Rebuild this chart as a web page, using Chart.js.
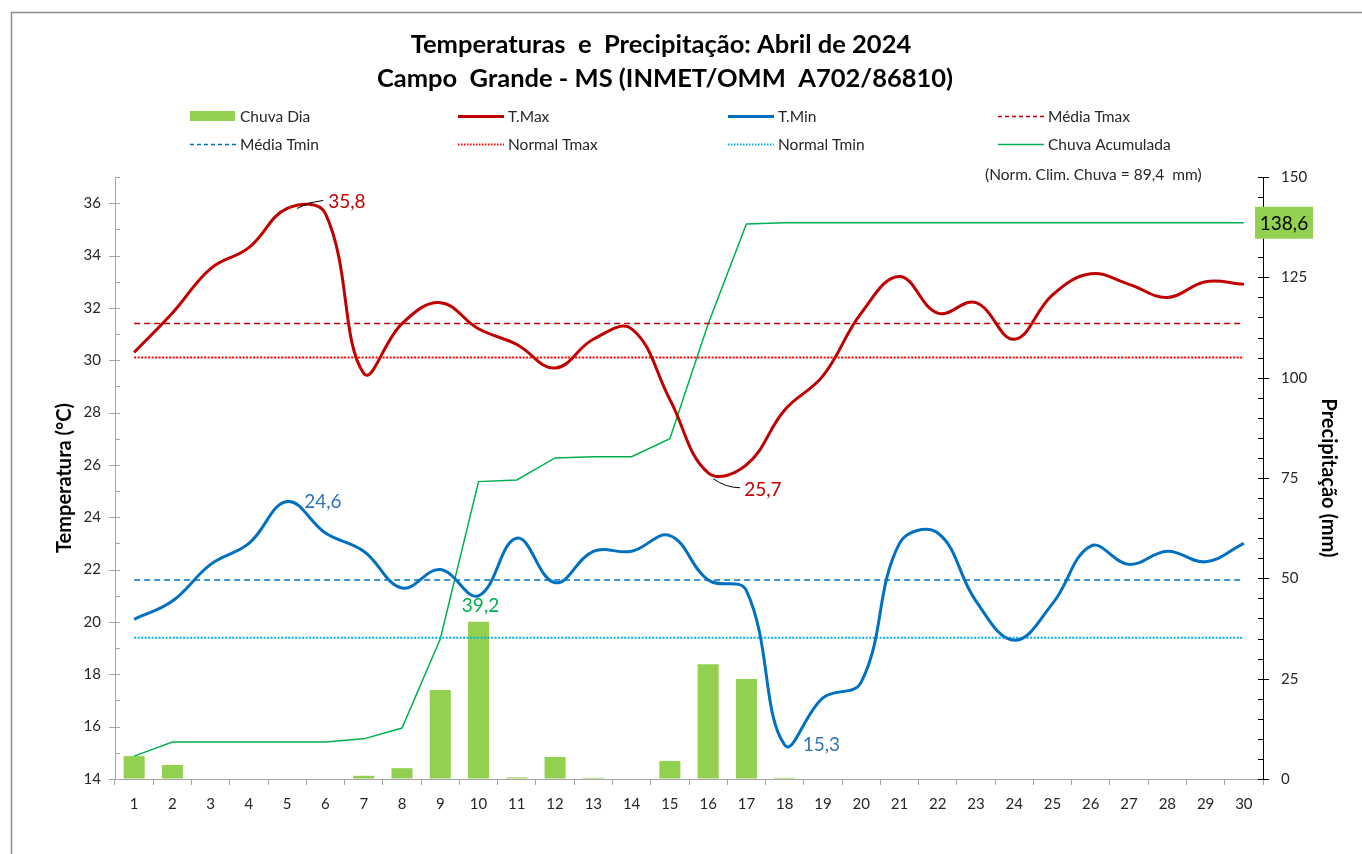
<!DOCTYPE html>
<html>
<head>
<meta charset="utf-8">
<script src="https://cdn.jsdelivr.net/npm/chart.js@4.4.1/dist/chart.umd.min.js"></script>
<style>
  html, body { margin: 0; padding: 0; background: #fff; }
</style>
</head>
<body>
<canvas id="grafico" width="1362" height="854"></canvas>
<script>
// Dados: abril de 2024, Campo Grande - MS
const dias = ['1','2','3','4','5','6','7','8','9','10','11','12','13','14','15',
              '16','17','18','19','20','21','22','23','24','25','26','27','28','29','30'];

const tmax = [30.3, 31.8, 33.5, 34.3, 35.8, 35.6, 29.5, 31.4, 32.2, 31.2,
              30.6, 29.7, 30.8, 31.2, 28.5, 25.7, 26.0, 28.1, 29.4, 31.8,
              33.2, 31.8, 32.2, 30.8, 32.5, 33.3, 32.9, 32.4, 33.0, 32.9];

const tmin = [20.1, 20.8, 22.2, 23.0, 24.6, 23.4, 22.7, 21.3, 22.0, 21.0,
              23.2, 21.5, 22.7, 22.7, 23.3, 21.6, 21.2, 15.3, 17.1, 17.7,
              23.0, 23.4, 20.8, 19.3, 20.7, 22.9, 22.2, 22.7, 22.3, 23.0];

const chuvaDia = [5.7, 3.5, 0, 0, 0, 0, 0.8, 2.7, 22.2, 39.2,
                  0.4, 5.5, 0.3, 0, 4.5, 28.6, 24.9, 0.3, 0, 0,
                  0, 0, 0, 0, 0, 0, 0, 0, 0, 0];

const chuvaAcum = [5.7, 9.2, 9.2, 9.2, 9.2, 9.2, 10.0, 12.7, 34.9, 74.1,
                   74.5, 80.0, 80.3, 80.3, 84.8, 113.4, 138.3, 138.6, 138.6, 138.6,
                   138.6, 138.6, 138.6, 138.6, 138.6, 138.6, 138.6, 138.6, 138.6, 138.6];

const mediaTmax = 31.4;
const normalTmax = 30.1;
const mediaTmin = 21.6;
const normalTmin = 19.4;
const normaChuva = '89,4';

const titulo = ['Temperaturas  e  Precipitação: Abril de 2024',
                'Campo  Grande - MS (INMET/OMM  A702/86810)'];

const FONTE = 'Lato, "Open Sans", sans-serif';
const fmt = v => v.toFixed(1).replace('.', ',');

// legenda em 4 colunas, 2 linhas
const legenda = [
  { texto: 'Chuva Dia',       tipo: 'bar',  cor: '#92D050', col: 0, lin: 0 },
  { texto: 'T.Max',           tipo: 'line', cor: '#C00000', w: 3,   col: 1, lin: 0 },
  { texto: 'T.Min',           tipo: 'line', cor: '#0070C0', w: 3,   col: 2, lin: 0 },
  { texto: 'Média Tmax',      tipo: 'line', cor: '#C00000', w: 1.5, dash: [4, 3], col: 3, lin: 0 },
  { texto: 'Média Tmin',      tipo: 'line', cor: '#0070C0', w: 1.5, dash: [4, 3], col: 0, lin: 1 },
  { texto: 'Normal Tmax',     tipo: 'line', cor: '#FF0000', w: 2,   dash: [1.5, 1.5], col: 1, lin: 1 },
  { texto: 'Normal Tmin',     tipo: 'line', cor: '#00B0F0', w: 2,   dash: [1.5, 1.5], col: 2, lin: 1 },
  { texto: 'Chuva Acumulada', tipo: 'line', cor: '#00B050', w: 1.5, col: 3, lin: 1 }
];

const decoracao = {
  id: 'decoracao',
  afterDraw(chart) {
    const ctx = chart.ctx;
    const ca = chart.chartArea;
    const yL = chart.scales.y;
    const yR = chart.scales.y2;
    ctx.save();

    // moldura
    ctx.strokeStyle = '#8C8C8C';
    ctx.lineWidth = 1.5;
    ctx.strokeRect(11.5, 12.5, 1400, 900);

    // título
    ctx.fillStyle = '#000';
    ctx.textAlign = 'center';
    ctx.textBaseline = 'middle';
    ctx.font = `bold 25.5px ${FONTE}`;
    ctx.fillText(titulo[0], 661, 45);
    ctx.fillText(titulo[1], 665, 79);

    // legenda
    const colX = [190, 458, 728, 998];
    const linY = [116, 144];
    ctx.font = `15.5px ${FONTE}`;
    ctx.textAlign = 'left';
    legenda.forEach(it => {
      const x = colX[it.col], y = linY[it.lin];
      if (it.tipo === 'bar') {
        ctx.fillStyle = it.cor;
        ctx.fillRect(x, y - 5, 45, 10);
      } else {
        ctx.strokeStyle = it.cor;
        ctx.lineWidth = it.w;
        ctx.setLineDash(it.dash || []);
        ctx.beginPath();
        ctx.moveTo(x, y + 0.5);
        ctx.lineTo(x + 46, y + 0.5);
        ctx.stroke();
        ctx.setLineDash([]);
      }
      ctx.fillStyle = '#262626';
      ctx.fillText(it.texto, x + 50, y + 1);
    });
    ctx.font = `15.5px ${FONTE}`;
    ctx.fillText(`(Norm. Clim. Chuva = ${normaChuva}  mm)`, 985, 175);

    // marcas dos eixos
    ctx.lineWidth = 1;
    ctx.strokeStyle = '#A6A6A6';
    for (let v = yL.min; v <= yL.max; v++) {
      const y = Math.round(yL.getPixelForValue(v)) + 0.5;
      ctx.beginPath();
      ctx.moveTo(v % 2 === 0 ? ca.left - 6 : ca.left, y);
      ctx.lineTo(ca.left + 5, y);
      ctx.stroke();
    }
    ctx.strokeStyle = '#000';
    for (let v = yR.min; v <= yR.max; v += 5) {
      const y = Math.round(yR.getPixelForValue(v)) + 0.5;
      ctx.beginPath();
      ctx.moveTo(ca.right - 5, y);
      ctx.lineTo(v % 25 === 0 ? ca.right + 6 : ca.right, y);
      ctx.stroke();
    }

    // rótulos de dados
    const ponto = (ds, i) => chart.getDatasetMeta(ds).data[i];
    ctx.font = `19px ${FONTE}`;
    ctx.textBaseline = 'middle';

    const iMax = tmax.indexOf(Math.max(...tmax));
    let p = ponto(7, iMax);
    ctx.strokeStyle = '#000';
    ctx.lineWidth = 1;
    ctx.beginPath();
    ctx.moveTo(p.x + 10, p.y);
    ctx.quadraticCurveTo(p.x + 22, p.y - 7, p.x + 36, p.y - 8);
    ctx.stroke();
    ctx.fillStyle = '#C00000';
    ctx.textAlign = 'left';
    ctx.fillText(fmt(tmax[iMax]), p.x + 41, p.y - 7);

    const iMin = tmax.indexOf(Math.min(...tmax));
    p = ponto(7, iMin);
    ctx.beginPath();
    ctx.moveTo(p.x + 5, p.y + 6);
    ctx.quadraticCurveTo(p.x + 18, p.y + 15, p.x + 32, p.y + 15);
    ctx.stroke();
    ctx.fillText(fmt(tmax[iMin]), p.x + 36, p.y + 17);

    ctx.fillStyle = '#2E75B6';
    const jMax = tmin.indexOf(Math.max(...tmin));
    p = ponto(6, jMax);
    ctx.fillText(fmt(tmin[jMax]), p.x + 17, p.y);
    const jMin = tmin.indexOf(Math.min(...tmin));
    p = ponto(6, jMin);
    ctx.fillText(fmt(tmin[jMin]), p.x + 18, p.y);

    const kMax = chuvaDia.indexOf(Math.max(...chuvaDia));
    p = ponto(0, kMax);
    ctx.fillStyle = '#00B050';
    ctx.textAlign = 'center';
    ctx.fillText(fmt(chuvaDia[kMax]), p.x + 2, p.y - 16);

    // total acumulado no eixo direito
    const total = chuvaAcum[chuvaAcum.length - 1];
    const yT = yR.getPixelForValue(total);
    ctx.fillStyle = '#92D050';
    ctx.fillRect(ca.right - 8, yT - 16, 58, 32);
    ctx.fillStyle = '#000';
    ctx.font = `19px ${FONTE}`;
    ctx.fillText(fmt(total), ca.right + 21, yT + 1);

    ctx.restore();
  }
};

const linhaConst = v => dias.map(() => v);

new Chart(document.getElementById('grafico'), {
  type: 'bar',
  data: {
    labels: dias,
    datasets: [
      { type: 'bar', label: 'Chuva Dia', data: chuvaDia, yAxisID: 'y2',
        backgroundColor: '#92D050', barPercentage: 0.55, categoryPercentage: 1, order: 7 },
      { type: 'line', label: 'Chuva Acumulada', data: chuvaAcum, yAxisID: 'y2',
        borderColor: '#00B050', borderWidth: 1.5, tension: 0, pointRadius: 0, order: 6 },
      { type: 'line', label: 'Normal Tmin', data: linhaConst(normalTmin), yAxisID: 'y',
        borderColor: '#00B0F0', borderWidth: 2, borderDash: [2, 1.5], pointRadius: 0, order: 5 },
      { type: 'line', label: 'Normal Tmax', data: linhaConst(normalTmax), yAxisID: 'y',
        borderColor: '#FF0000', borderWidth: 2, borderDash: [2, 1.5], pointRadius: 0, order: 4 },
      { type: 'line', label: 'Média Tmin', data: linhaConst(mediaTmin), yAxisID: 'y',
        borderColor: '#0070C0', borderWidth: 1.5, borderDash: [6, 4], pointRadius: 0, order: 3 },
      { type: 'line', label: 'Média Tmax', data: linhaConst(mediaTmax), yAxisID: 'y',
        borderColor: '#C00000', borderWidth: 1.5, borderDash: [6, 4], pointRadius: 0, order: 2 },
      { type: 'line', label: 'T.Min', data: tmin, yAxisID: 'y',
        borderColor: '#0070C0', borderWidth: 3, tension: 0.4, pointRadius: 0, order: 1 },
      { type: 'line', label: 'T.Max', data: tmax, yAxisID: 'y',
        borderColor: '#C00000', borderWidth: 3, tension: 0.4, pointRadius: 0, order: 0 }
    ]
  },
  options: {
    responsive: false,
    animation: false,
    devicePixelRatio: 1,
    layout: { padding: { left: 53, right: 22, top: 177, bottom: 20 } },
    plugins: { legend: { display: false }, tooltip: { enabled: false }, title: { display: false } },
    scales: {
      x: {
        offset: true,
        grid: { offset: true, drawOnChartArea: false, drawTicks: true, tickLength: 6, color: '#A6A6A6' },
        border: { display: true, color: '#A6A6A6', width: 1 },
        ticks: { padding: 10, color: '#262626', font: { family: FONTE, size: 15 }, maxRotation: 0, autoSkip: false },
        afterFit: s => { s.height = 55; }
      },
      y: {
        position: 'left',
        min: 14, max: 37,
        ticks: { stepSize: 2, includeBounds: false, padding: 14, color: '#262626', font: { family: FONTE, size: 15 } },
        grid: { drawOnChartArea: false, drawTicks: false },
        border: { display: true, color: '#A6A6A6', width: 1 },
        title: { display: true, text: 'Temperatura (°C)', color: '#000', padding: 0,
                 font: { family: FONTE, size: 20, weight: 'bold' } },
        afterFit: s => { s.width = 62; }
      },
      y2: {
        position: 'right',
        min: 0, max: 150,
        ticks: { stepSize: 25, padding: 18, color: '#262626', font: { family: FONTE, size: 15 } },
        grid: { drawOnChartArea: false, drawTicks: false },
        border: { display: true, color: '#000', width: 1 },
        title: { display: true, text: 'Precipitação (mm)', color: '#000', padding: 0,
                 font: { family: FONTE, size: 20, weight: 'bold' } },
        afterFit: s => { s.width = 77; }
      }
    }
  },
  plugins: [decoracao]
});
</script>
</body>
</html>
